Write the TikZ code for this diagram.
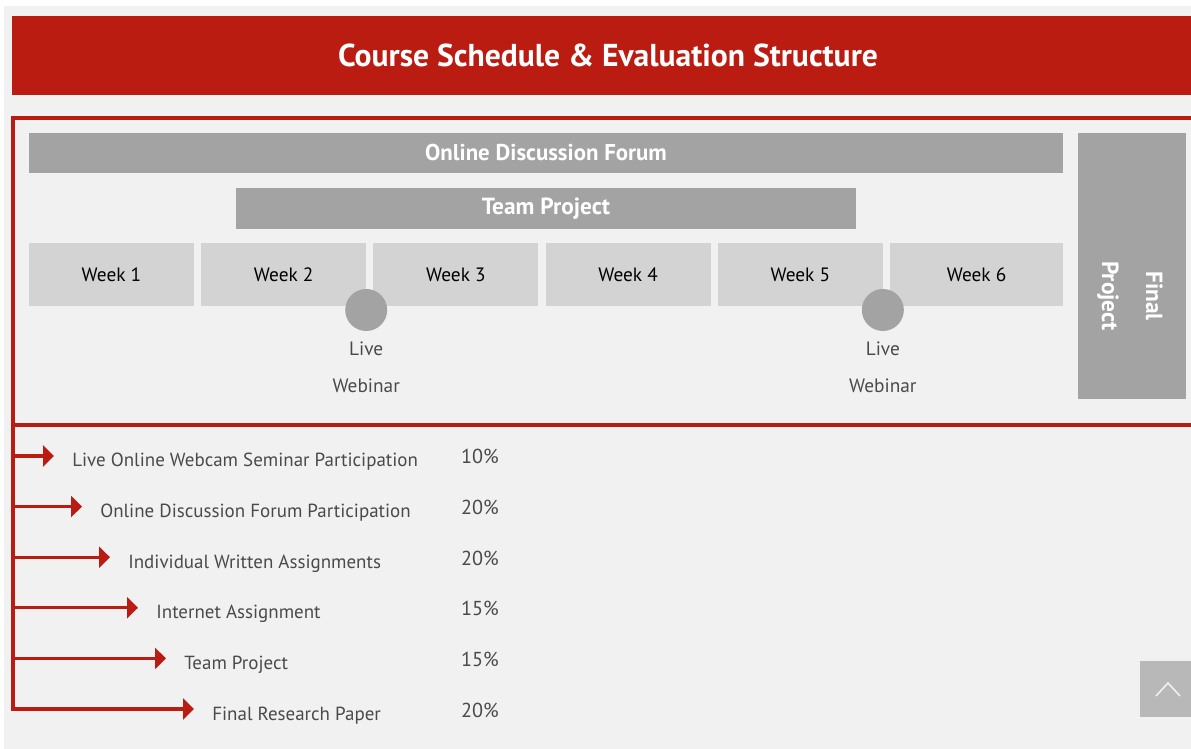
\documentclass[tikz,border=0pt]{standalone}
\usepackage{fontspec}
\setmainfont{PT Sans}
\usetikzlibrary{positioning,arrows.meta}
\definecolor{hdred}{HTML}{BB1C12}
\definecolor{bargray}{HTML}{A3A3A3}
\definecolor{weekgray}{HTML}{D3D3D3}
\definecolor{pagegray}{HTML}{F1F1F1}
\definecolor{txtgray}{HTML}{4A4A4A}
\definecolor{btngray}{HTML}{B8B8B8}

\begin{document}
\begin{tikzpicture}[x=0.02cm,y=-0.02cm,
  bar/.style={fill=bargray,text=white,font=\bfseries\fontsize{13}{15}\selectfont,inner sep=0pt,minimum height=0.8cm},
  week/.style={fill=weekgray,text=black,font=\fontsize{11}{14}\selectfont,inner sep=0pt,outer sep=0pt,minimum width=3.3cm,minimum height=1.26cm},
  dot/.style={circle,fill=bargray,inner sep=0pt,minimum size=0.84cm},
  note/.style={anchor=base,text=txtgray,font=\fontsize{11}{13}\selectfont,inner sep=0pt},
  frame/.style={draw=hdred,line width=2pt,line cap=rect},
  item/.style={anchor=base west,text=txtgray,font=\fontsize{10.8}{14}\selectfont,inner xsep=0.36cm,inner ysep=0pt},
  pct/.style={anchor=base east,text=txtgray,font=\fontsize{11.5}{14}\selectfont,inner sep=0pt},
  arr/.style={draw=hdred,line width=1.8pt,-{Triangle[length=0.22cm,width=0.42cm]}}]

\useasboundingbox (0,0) rectangle (1191,749);
\fill[pagegray] (4,6) rectangle (1191,749);

% title
\node[fill=hdred,minimum width=23.58cm,minimum height=1.58cm,inner sep=0pt] (header) at (601.5,55.5) {};
\node[text=white,font=\bfseries\fontsize{18}{22}\selectfont,inner sep=0pt] (title) at (608,55.5) {Course Schedule \& Evaluation Structure};

% red frame
\coordinate (ftl) at (13,118);
\coordinate (ftr) at (1191,118);
\coordinate (fml) at (13,425);
\coordinate (fmr) at (1191,425);
\coordinate (fbl) at (13,709);
\draw[frame] (ftr) -- (ftl) -- (fbl);
\draw[frame] (fml) -- (fmr);

% schedule
\node[bar,minimum width=20.68cm] (forum) at (546,153) {Online Discussion Forum};
\node[bar,minimum width=12.4cm,minimum height=0.82cm,font=\bfseries\fontsize{13.3}{15}\selectfont] (team) at (546,208.5) {Team Project};

\node[week] (w1) at (111.5,274.5) {Week 1};
\node[week] (w2) [right=0.145cm of w1] {Week 2};
\node[week] (w3) [right=0.145cm of w2] {Week 3};
\node[week] (w4) [right=0.145cm of w3] {Week 4};
\node[week] (w5) [right=0.145cm of w4] {Week 5};
\node[week,minimum width=3.46cm] (w6) [right=0.145cm of w5] {Week 6};

\node[dot] (web1) at ([yshift=-0.08cm]w2.south east) {};
\node[dot] (web2) at ([yshift=-0.08cm]w5.south east) {};
\node[note] (live1) at ([yshift=-0.48cm]web1.south) {Live};
\node[note] (wbn1) at ([yshift=-0.74cm]live1.base) {Webinar};
\node[note] (live2) at ([yshift=-0.48cm]web2.south) {Live};
\node[note] (wbn2) at ([yshift=-0.74cm]live2.base) {Webinar};

\node[fill=bargray,minimum width=2.16cm,minimum height=5.32cm,inner sep=0pt] (final) at (1132,266) {};
\node[rotate=-90,text=white,font=\bfseries\fontsize{13.3}{25}\selectfont,align=center,inner sep=0pt] (finaltxt) at (1130,296) {Final\\Project};

% evaluation
\coordinate (s1) at (13,456);
\coordinate (s2) at (13,506.6);
\coordinate (s3) at (13,557.2);
\coordinate (s4) at (13,607.8);
\coordinate (s5) at (13,658.4);
\coordinate (s6) at (fbl);

\node[item] (i1) at (54,467) {Live Online Webcam Seminar Participation};
\node[item] (i2) at (82,518) {Online Discussion Forum Participation};
\node[item] (i3) at (110,569) {Individual Written Assignments};
\node[item] (i4) at (138,619) {Internet Assignment};
\node[item] (i5) at (166,670) {Team Project};
\node[item] (i6) at (194,721) {Final Research Paper};

\draw[arr] (s1) -- (s1 -| i1.west);
\draw[arr] (s2) -- (s2 -| i2.west);
\draw[arr] (s3) -- (s3 -| i3.west);
\draw[arr] (s4) -- (s4 -| i4.west);
\draw[arr] (s5) -- (s5 -| i5.west);
\draw[arr] (s6) -- (s6 -| i6.west);

\node[pct] (p1) at (499,464) {10\%};
\node[pct] (p2) at (499,515) {20\%};
\node[pct] (p3) at (499,566) {20\%};
\node[pct] (p4) at (499,616) {15\%};
\node[pct] (p5) at (499,667) {15\%};
\node[pct] (p6) at (499,718) {20\%};

% back to top button
\node[fill=btngray,minimum width=1.02cm,minimum height=1.12cm,inner sep=0pt] (totop) at (1165.5,689) {};
\draw[white!80!btngray,line width=0.9pt] (1156,696) -- (1168,683) -- (1180,696);
\end{tikzpicture}
\end{document}
